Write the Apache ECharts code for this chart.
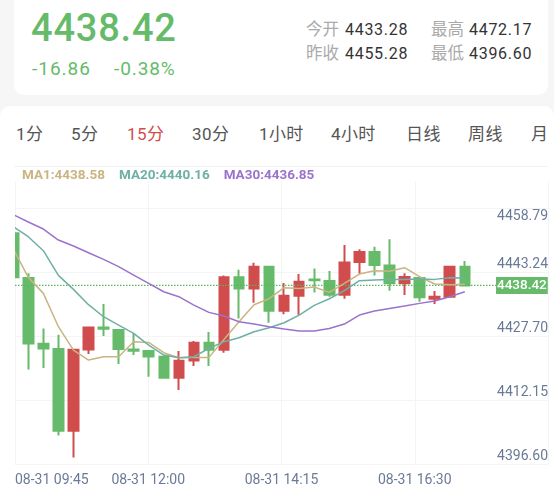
<!DOCTYPE html>
<html>
<head>
<meta charset="utf-8">
<script src="https://cdn.jsdelivr.net/npm/echarts@6/dist/echarts.min.js"></script>
<style>
  html, body { margin: 0; padding: 0; width: 554px; height: 491px; overflow: hidden; background: #f6f6f6;
    font-family: Roboto, "Noto Sans CJK SC", sans-serif; }
  .abs { position: absolute; white-space: nowrap; line-height: 1; }
  .card-top { position: absolute; left: 14px; top: -10px; width: 534px; height: 105px; background: #fff; border-radius: 10px; }
  .card-main { position: absolute; left: 0; top: 106px; width: 554px; height: 400px; background: #fff; border-radius: 10px 10px 0 0; }
  .rule { position: absolute; left: 14px; top: 166px; width: 534px; height: 1px; background: #f3f3f3; }
  #chart { position: absolute; left: 0; top: 0; width: 554px; height: 491px; }
  /* candlestick series only drops whole boxes, so the cut first candle needs this strip */
  .left-edge { position: absolute; left: 0; top: 208px; width: 15px; height: 256px; background: #fff; }
</style>
</head>
<body>
<div class="card-top"></div>
<div class="card-main"></div>
<div class="rule"></div>
<div class="abs" style="left:31px;top:9px;font-size:38px;font-weight:500;letter-spacing:.8px;color:#66bb6a;">4438.42</div>
<div class="abs" style="left:32px;top:59px;font-size:19px;letter-spacing:1px;color:#66bb6a;">-16.86</div>
<div class="abs" style="left:114px;top:59px;font-size:19px;letter-spacing:.9px;color:#66bb6a;">-0.38%</div>
<div id="quote"></div>
<div id="tabs"></div>
<div id="chart"></div>
<div class="left-edge"></div>
<script>
const quoteItems = [
  ["今开", "4433.28", 306, 345, 22],
  ["最高", "4472.17", 431, 469, 22],
  ["昨收", "4455.28", 306, 345, 45.5],
  ["最低", "4396.60", 431, 469, 45.5]
];
const tabNames = ["1分", "5分", "15分", "30分", "1小时", "4小时", "日线", "周线", "月"];
const tabLefts = [16, 71, 127, 192, 259, 331, 406, 468, 531];
const activeTab = "15分";

const timeLabels = ["08-31 09:45", "08-31 12:00", "08-31 14:15", "08-31 16:30"];
const priceTicks = ["4396.60", "4412.15", "4427.70", "4443.24", "4458.79"];
const lastPriceText = "4438.42";
const maLegend = ["MA1:4438.58", "MA20:4440.16", "MA30:4436.85"];

const opens = [4452.63, 4441.78, 4425.82, 4424.52, 4404.68, 4424.44, 4429.79, 4429.14, 4424.44, 4424.04, 4422.66,
  4417.56, 4421.77, 4426.06, 4424.36, 4441.94, 4439.26, 4444.53, 4433.84, 4437.48, 4441.45, 4441.05,
  4437.73, 4445.66, 4448.09, 4444.85, 4440.48, 4441.78, 4436.75, 4437.24, 4444.53];
const closes = [4441.94, 4425.90, 4424.68, 4404.68, 4424.36, 4429.79, 4429.46, 4424.52, 4424.12, 4422.74, 4417.56,
  4421.69, 4426.06, 4424.36, 4441.94, 4439.26, 4444.53, 4433.84, 4437.48, 4440.88, 4441.21, 4437.73,
  4445.58, 4448.09, 4444.93, 4440.48, 4442.02, 4437.08, 4437.24, 4444.53, 4439.99];
const lows = [4441.94, 4419.58, 4419.91, 4403.54, 4398.20, 4423.31, 4427.68, 4420.88, 4423.06, 4417.80, 4417.39,
  4414.56, 4420.39, 4420.39, 4423.63, 4431.97, 4435.78, 4430.92, 4432.95, 4432.87, 4438.29, 4437.24,
  4436.75, 4442.83, 4442.42, 4438.70, 4437.64, 4436.02, 4435.46, 4437.24, 4439.99];
const highs = [4452.63, 4442.91, 4429.54, 4428.01, 4424.36, 4429.79, 4435.46, 4429.14, 4428.33, 4424.28, 4422.98,
  4424.04, 4426.47, 4428.65, 4442.42, 4443.80, 4445.50, 4444.53, 4440.56, 4442.75, 4444.12, 4443.48,
  4449.79, 4448.74, 4449.39, 4451.17, 4442.91, 4441.78, 4438.62, 4444.53, 4445.91];
const ma1 = [4448.82, 4441.94, 4438.05, 4429.95, 4424.28, 4421.85, 4422.66, 4422.66, 4426.30, 4426.14, 4423.63,
  4422.42, 4422.50, 4422.50, 4426.87, 4431.16, 4435.30, 4436.75, 4439.43, 4439.26, 4439.59, 4438.29,
  4440.48, 4442.75, 4443.56, 4443.40, 4444.29, 4442.10, 4440.32, 4440.16, 4440.24];
const ma20 = [4454.25, 4451.82, 4448.42, 4442.42, 4439.02, 4435.30, 4432.38, 4430.35, 4428.33, 4425.49, 4423.06,
  4422.42, 4422.66, 4424.68, 4426.30, 4427.28, 4428.73, 4429.71, 4430.92, 4432.78, 4435.13, 4436.75,
  4438.70, 4441.13, 4441.29, 4441.45, 4441.45, 4441.53, 4441.45, 4441.86, 4441.78];
const ma30 = [4457.17, 4455.38, 4453.68, 4451.01, 4449.55, 4447.93, 4446.31, 4444.53, 4442.50, 4440.48, 4438.45,
  4437.24, 4435.21, 4433.43, 4432.54, 4431.16, 4430.60, 4429.95, 4429.38, 4428.90, 4428.90, 4429.54,
  4430.60, 4432.78, 4433.76, 4434.40, 4434.97, 4435.62, 4436.19, 4437.24, 4438.45];

const RED = "#d14d4d";
const GREEN = "#66bb6a";
const MA_COLORS = ["#c9b482", "#6eb0a4", "#9b72cc"];
const AXIS_TEXT = "#6b7a96";
const GRID_LINE = "#f4f4f4";
const X_MIN = 0.116;
const X_MAX = 35.53;

// header text
document.getElementById("quote").innerHTML = quoteItems.map(q =>
  `<div class="abs" style="left:${q[2]}px;top:${q[4]}px;font-size:16.5px;color:#aaa;">${q[0]}</div>` +
  `<div class="abs" style="left:${q[3]}px;top:${q[4]}px;font-size:16px;letter-spacing:.7px;color:#333;">${q[1]}</div>`
).join("");
document.getElementById("tabs").innerHTML = tabNames.map((name, i) =>
  `<div class="abs" style="left:${tabLefts[i]}px;top:126px;font-size:17px;letter-spacing:.4px;color:${name === activeTab ? RED : "#555"};">${name}</div>`
).join("");

const chart = echarts.init(document.getElementById("chart"));
const withIndex = arr => arr.map((v, i) => [i, v]);

const maSeries = [ma1, ma20, ma30].map((values, i) => ({
  type: "line",
  data: withIndex(values),
  symbol: "none",
  clip: true,
  lineStyle: { color: MA_COLORS[i], width: 1.5 },
  z: 5
}));

// last price line, a flat line series because markLine came out black
const lastClose = closes[closes.length - 1];
const lastPriceSeries = {
  type: "line",
  data: [[X_MIN, lastClose], [X_MAX, lastClose]],
  symbol: "none",
  itemStyle: { color: "#55b85a" },
  lineStyle: { color: "#55b85a", type: [1.5, 1.5], width: 1.4 },
  z: 4,
  endLabel: {
    show: true,
    offset: [-52, 0],
    distance: 0,
    formatter: lastPriceText,
    color: "#fff",
    fontSize: 13.5,
    fontWeight: 500,
    fontFamily: "Roboto",
    backgroundColor: GREEN,
    padding: [2, 1, 1, 1]
  }
};

chart.setOption({
  animation: false,
  title: {
    text: maLegend.map((t, i) => `{m${i}|${t}}`).join(""),
    left: 22,
    top: 169,
    padding: 0,
    textStyle: {
      fontSize: 13.5,
      rich: {
        m0: { color: MA_COLORS[0], fontSize: 13.5, fontFamily: "Roboto", padding: [0, 14, 0, 0] },
        m1: { color: MA_COLORS[1], fontSize: 13.5, fontFamily: "Roboto", padding: [0, 14, 0, 0] },
        m2: { color: MA_COLORS[2], fontSize: 13.5, fontFamily: "Roboto" }
      }
    }
  },
  grid: [
    { left: 15, right: 6, top: 208, bottom: 27 },
    { left: 15, right: 6, top: 181, bottom: 27 }
  ],
  xAxis: [
    // candles sit on a plain index scale, the first one is cut by the left edge
    { type: "value", gridIndex: 0, min: X_MIN, max: X_MAX, show: false },
    {
      type: "value",
      gridIndex: 1,
      min: 0,
      max: 4,
      interval: 1,
      axisLine: { show: false },
      axisTick: { show: false },
      splitLine: { show: true, lineStyle: { color: GRID_LINE } },
      axisLabel: {
        color: AXIS_TEXT,
        fontSize: 14,
        fontFamily: "Roboto",
        margin: 9,
        alignMinLabel: "left",
        formatter: (v, i) => timeLabels[i] || ""
      }
    }
  ],
  yAxis: [
    {
      type: "value",
      gridIndex: 0,
      position: "right",
      min: 4396.6,
      max: 4458.79,
      interval: 15.5475,
      axisLine: { show: false },
      axisTick: { show: false },
      splitLine: { show: true, lineStyle: { color: GRID_LINE } },
      axisLabel: {
        inside: true,
        margin: 0,
        color: AXIS_TEXT,
        fontSize: 14,
        fontFamily: "Roboto",
        verticalAlign: "bottom",
        verticalAlignMaxLabel: "top",
        padding: [1, 0, 1, 0],
        formatter: (v, i) => priceTicks[i]
      }
    },
    { type: "value", gridIndex: 1, show: false }
  ],
  series: [
    {
      type: "candlestick",
      xAxisIndex: 0,
      yAxisIndex: 0,
      barWidth: 10,
      encode: { x: 0, y: [1, 2, 3, 4] },
      data: opens.map((o, i) => [i, o, closes[i], lows[i], highs[i]]),
      itemStyle: { color: RED, color0: GREEN, borderColor: RED, borderColor0: GREEN, borderWidth: 2 }
    },
    lastPriceSeries,
    ...maSeries
  ]
});
</script>
</body>
</html>
